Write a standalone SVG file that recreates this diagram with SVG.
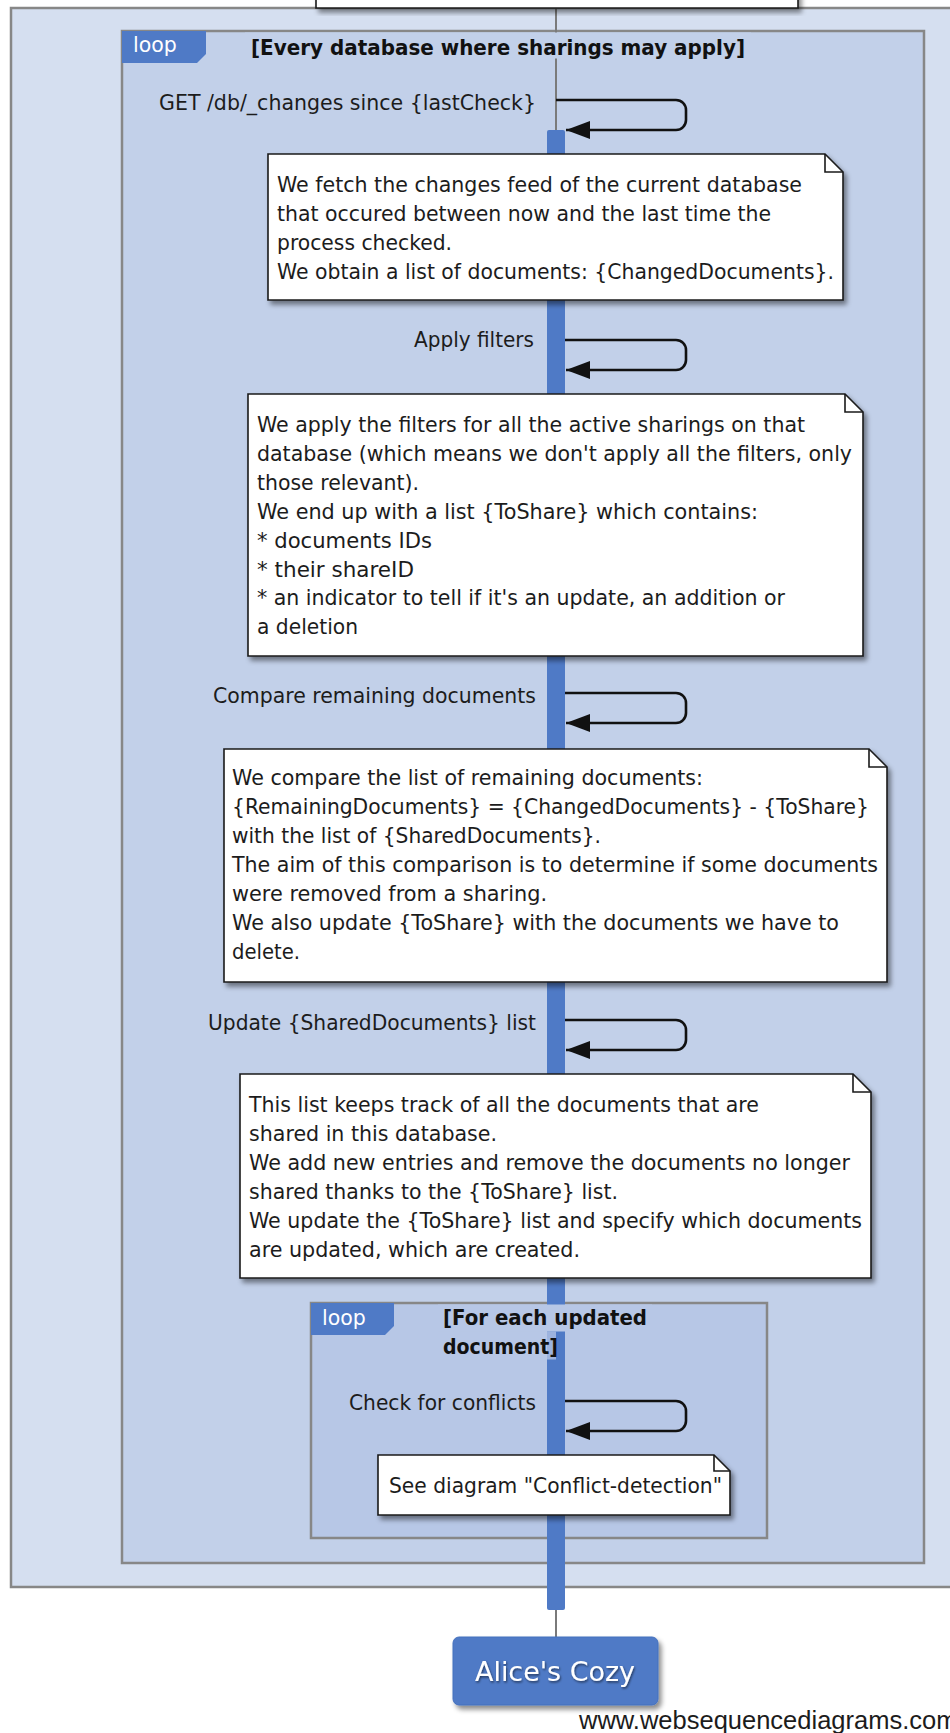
<svg xmlns="http://www.w3.org/2000/svg" width="950" height="1733" viewBox="0 0 950 1733">
  <defs>
    <style>
      text { font-family: "DejaVu Sans", "Liberation Sans", sans-serif; }
      .t { font-size: 20.5px; fill: #1c1c1c; }
      .cond { font-size: 20.5px; font-weight: bold; fill: #111; }
      .tab { font-size: 20.5px; fill: #ffffff; }
      .credit { font-family: "Liberation Sans", Arial, sans-serif; font-size: 25.5px; fill: #1c1c1c; }
      .frame { stroke: #878787; stroke-width: 2.5; }
      .note { fill: #ffffff; stroke: #1a1a1a; stroke-width: 1.6; filter: url(#shadow); }
      .fold { fill: none; stroke: #1a1a1a; stroke-width: 1.6; }
      .msg { fill: none; stroke: #111111; stroke-width: 2.6; marker-end: url(#arrow); }
      .blue { fill: #4f7ac6; }
      .life { stroke: #7a7a7a; stroke-width: 2; }
    </style>
    <filter id="shadow" x="-5%" y="-10%" width="115%" height="130%">
      <feDropShadow dx="3" dy="4" stdDeviation="2.5" flood-color="#000" flood-opacity="0.45"/>
    </filter>
    <filter id="tshadow" x="-10%" y="-20%" width="120%" height="150%">
      <feDropShadow dx="1" dy="1.5" stdDeviation="1" flood-color="#000" flood-opacity="0.55"/>
    </filter>
    <marker id="arrow" markerUnits="userSpaceOnUse" markerWidth="24" markerHeight="18" viewBox="0 0 24 18" refX="24" refY="9" orient="auto">
      <path d="M0,0 L24,9 L0,18 Z" fill="#111111"/>
    </marker>
  </defs>

  <rect x="0" y="0" width="950" height="1733" fill="#ffffff"/>

  <!-- enclosing frame and loop fragments (boxes only) -->
  <g id="frames">
    <rect class="frame" x="11" y="8" width="980" height="1579" fill="#d5dff0"/>
    <g id="loop-databases">
      <rect class="frame" x="122" y="31" width="802" height="1532" fill="#c2d0e9"/>
      <path class="blue" d="M122,31 H206 V54 L197,63 H122 Z"/>
      <text class="tab" x="133" y="52">loop</text>
    </g>
    <g id="loop-updated">
      <rect class="frame" x="311" y="1303" width="456" height="235" fill="#b7c7e6"/>
      <path class="blue" d="M311,1303 H394 V1326 L385,1335 H311 Z"/>
      <text class="tab" x="322" y="1325">loop</text>
    </g>
  </g>

  <!-- lifeline and activation -->
  <g id="lifeline">
    <line class="life" x1="556" y1="8" x2="556" y2="1637"/>
    <rect class="blue" x="547" y="130" width="18" height="1480" rx="2"/>
  </g>

  <!-- loop conditions, drawn over the lifeline -->
  <g id="loop-conditions">
    <rect x="245" y="32.5" width="506" height="26" fill="#c2d0e9"/>
    <text class="cond" x="251" y="55" textLength="494" lengthAdjust="spacingAndGlyphs">[Every database where sharings may apply]</text>
    <rect x="438" y="1304.5" width="214" height="27" fill="#b7c7e6"/>
    <rect x="438" y="1331.5" width="118" height="28" fill="#b7c7e6" fill-opacity="0.75"/>
    <text class="cond" x="443" y="1325" textLength="204" lengthAdjust="spacingAndGlyphs">[For each updated</text>
    <text class="cond" x="443" y="1354" textLength="115" lengthAdjust="spacingAndGlyphs">document]</text>
  </g>

  <!-- self messages -->
  <g id="connectors">
    <path class="msg" d="M556,100 H676 A10,10 0 0 1 686,110 V120 A10,10 0 0 1 676,130 H566"/>
    <path class="msg" d="M565,340 H676 A10,10 0 0 1 686,350 V360 A10,10 0 0 1 676,370 H566"/>
    <path class="msg" d="M565,693 H676 A10,10 0 0 1 686,703 V713 A10,10 0 0 1 676,723 H566"/>
    <path class="msg" d="M565,1020 H676 A10,10 0 0 1 686,1030 V1040 A10,10 0 0 1 676,1050 H566"/>
    <path class="msg" d="M565,1401 H676 A10,10 0 0 1 686,1411 V1421 A10,10 0 0 1 676,1431 H566"/>
  </g>

  <g id="message-labels">
    <text class="t" x="536" y="110" text-anchor="end" textLength="377" lengthAdjust="spacingAndGlyphs">GET /db/_changes since {lastCheck}</text>
    <text class="t" x="534" y="347" text-anchor="end" textLength="120" lengthAdjust="spacingAndGlyphs">Apply filters</text>
    <text class="t" x="536" y="703" text-anchor="end" textLength="323" lengthAdjust="spacingAndGlyphs">Compare remaining documents</text>
    <text class="t" x="536" y="1030" text-anchor="end" textLength="328" lengthAdjust="spacingAndGlyphs">Update {SharedDocuments} list</text>
    <text class="t" x="536" y="1410" text-anchor="end" textLength="187" lengthAdjust="spacingAndGlyphs">Check for conflicts</text>
  </g>

  <!-- note continuing from above -->
  <g id="note-0">
    <path class="note" d="M316,-30 H798 V8 H316 Z"/>
  </g>

  <g id="note-changes">
    <path class="note" d="M268,154 H825 L843,172 V300 H268 Z"/>
    <path class="fold" d="M825,154 V172 H843"/>
    <text class="t" x="277" y="192" textLength="525" lengthAdjust="spacingAndGlyphs">We fetch the changes feed of the current database</text>
    <text class="t" x="277" y="220.9" textLength="494" lengthAdjust="spacingAndGlyphs">that occured between now and the last time the</text>
    <text class="t" x="277" y="249.8" textLength="175" lengthAdjust="spacingAndGlyphs">process checked.</text>
    <text class="t" x="277" y="278.7" textLength="557" lengthAdjust="spacingAndGlyphs">We obtain a list of documents: {ChangedDocuments}.</text>
  </g>

  <g id="note-filters">
    <path class="note" d="M248,394 H845 L863,412 V656 H248 Z"/>
    <path class="fold" d="M845,394 V412 H863"/>
    <text class="t" x="257" y="432" textLength="548" lengthAdjust="spacingAndGlyphs">We apply the filters for all the active sharings on that</text>
    <text class="t" x="257" y="460.9" textLength="595" lengthAdjust="spacingAndGlyphs">database (which means we don't apply all the filters, only</text>
    <text class="t" x="257" y="489.8" textLength="162" lengthAdjust="spacingAndGlyphs">those relevant).</text>
    <text class="t" x="257" y="518.7" textLength="501" lengthAdjust="spacingAndGlyphs">We end up with a list {ToShare} which contains:</text>
    <text class="t" x="257" y="547.6" textLength="175" lengthAdjust="spacingAndGlyphs">* documents IDs</text>
    <text class="t" x="257" y="576.5" textLength="157" lengthAdjust="spacingAndGlyphs">* their shareID</text>
    <text class="t" x="257" y="605.4" textLength="528" lengthAdjust="spacingAndGlyphs">* an indicator to tell if it's an update, an addition or</text>
    <text class="t" x="257" y="634.3" textLength="101" lengthAdjust="spacingAndGlyphs">a deletion</text>
  </g>

  <g id="note-compare">
    <path class="note" d="M224,749 H869 L887,767 V982 H224 Z"/>
    <path class="fold" d="M869,749 V767 H887"/>
    <text class="t" x="232" y="785" textLength="471" lengthAdjust="spacingAndGlyphs">We compare the list of remaining documents:</text>
    <text class="t" x="232" y="814" textLength="637" lengthAdjust="spacingAndGlyphs">{RemainingDocuments} = {ChangedDocuments} - {ToShare}</text>
    <text class="t" x="232" y="843" textLength="369" lengthAdjust="spacingAndGlyphs">with the list of {SharedDocuments}.</text>
    <text class="t" x="232" y="872" textLength="646" lengthAdjust="spacingAndGlyphs">The aim of this comparison is to determine if some documents</text>
    <text class="t" x="232" y="901" textLength="315" lengthAdjust="spacingAndGlyphs">were removed from a sharing.</text>
    <text class="t" x="232" y="930" textLength="607" lengthAdjust="spacingAndGlyphs">We also update {ToShare} with the documents we have to</text>
    <text class="t" x="232" y="959" textLength="68" lengthAdjust="spacingAndGlyphs">delete.</text>
  </g>

  <g id="note-shared">
    <path class="note" d="M240,1074 H853 L871,1092 V1278 H240 Z"/>
    <path class="fold" d="M853,1074 V1092 H871"/>
    <text class="t" x="249" y="1112" textLength="510" lengthAdjust="spacingAndGlyphs">This list keeps track of all the documents that are</text>
    <text class="t" x="249" y="1140.9" textLength="248" lengthAdjust="spacingAndGlyphs">shared in this database.</text>
    <text class="t" x="249" y="1169.8" textLength="601" lengthAdjust="spacingAndGlyphs">We add new entries and remove the documents no longer</text>
    <text class="t" x="249" y="1198.7" textLength="369" lengthAdjust="spacingAndGlyphs">shared thanks to the {ToShare} list.</text>
    <text class="t" x="249" y="1227.6" textLength="613" lengthAdjust="spacingAndGlyphs">We update the {ToShare} list and specify which documents</text>
    <text class="t" x="249" y="1256.5" textLength="331" lengthAdjust="spacingAndGlyphs">are updated, which are created.</text>
  </g>

  <g id="note-conflicts">
    <path class="note" d="M378,1455 H714 L730,1471 V1515 H378 Z"/>
    <path class="fold" d="M714,1455 V1471 H730"/>
    <text class="t" x="389" y="1493" textLength="333" lengthAdjust="spacingAndGlyphs">See diagram "Conflict-detection"</text>
  </g>

  <!-- participant footer -->
  <g id="actor-alice">
    <rect x="453" y="1637" width="205" height="68" rx="6" fill="#4f7ac6" stroke="#4470bd" stroke-width="1" filter="url(#shadow)"/>
    <text x="555" y="1681" text-anchor="middle" font-size="26" fill="#ffffff" filter="url(#tshadow)" textLength="160" lengthAdjust="spacingAndGlyphs">Alice's Cozy</text>
  </g>

  <text class="credit" x="579" y="1729">www.websequencediagrams.com</text>
</svg>
